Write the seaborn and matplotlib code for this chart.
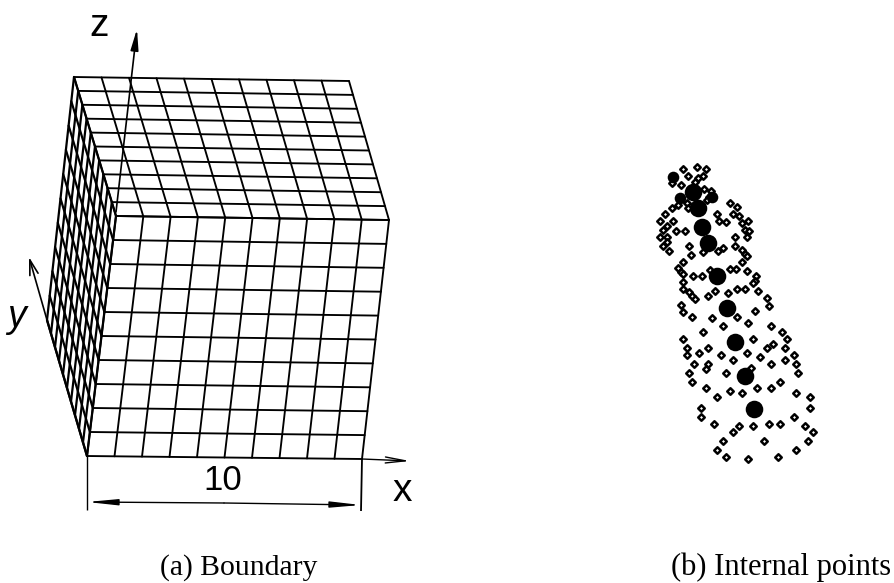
import numpy as np
import pandas as pd
import matplotlib
matplotlib.use("Agg")
import matplotlib.pyplot as plt
import seaborn as sns

# cube corners (image coordinates)
top_back_left = (74, 77)
top_back_right = (349, 81)
top_front_right = (389, 220)
top_front_left = (116, 216)
bottom_front_left = (87, 456)
bottom_front_right = (362, 459)
bottom_back_left = (47, 320)
divisions = 10

# internal points, upper part (crop coordinates: origin 640,155, 3x)
upper_x = [130,170,198,143,188,175,165,95,122,192,212,208,200,140,145,115,95,270,292,232,278,298,237,258,305,325,315,328,320,285,
           75,60,100,80,70,108,135,60,82,80,68,88,148,285,250,235,190,305,315,320,305,152,128,115,122,130,160,185,210,270,288,
           320,348,345,338,128,130,148,155,165,203,224,265,292,315,355,380,388,122,128,345]
upper_y = [42,35,42,62,62,70,80,85,90,102,108,125,135,145,158,150,158,145,157,178,178,183,197,200,205,198,225,228,245,245,
           178,198,198,212,225,227,227,245,245,260,272,288,272,272,278,288,290,285,298,302,320,300,320,340,350,358,362,362,345,342,342,
           348,362,378,385,380,402,412,422,432,422,408,415,402,402,408,430,452,450,470,468]
# internal points, lower part (crop coordinates: origin 660,305, 3x)
lower_x = [95,157,232,190,265,333,130,367,382,68,280,82,143,320,340,375,117,82,183,260,300,402,218,375,103,143,137,333,408,272,
           88,197,415,95,360,137,210,245,292,333,408,170,450,122,450,122,402,163,237,280,327,360,436,218,458,190,313,443,170,408,197,265,353]
lower_y = [35,40,35,62,55,62,82,82,102,102,102,130,130,130,117,130,143,150,150,143,157,150,165,165,178,178,192,178,178,190,
           205,205,205,232,232,250,257,264,250,250,264,277,277,308,308,336,336,356,363,363,356,356,363,382,382,408,408,408,436,436,457,463,457]
# source nodes (image coordinates)
large_x = [693, 698, 702, 708, 717, 727, 735, 745, 754]
large_y = [192, 208, 227, 243, 276, 308, 342, 376, 409]
medium_x = [673, 680, 712]
medium_y = [177, 198, 197]


def face_lines(a, b, c, d, n, start):
    """Mesh of the quadrilateral a-b-c-d as one long table of polylines."""
    a, b, c, d = map(np.asarray, (a, b, c, d))
    rows = []
    uid = start
    for t in np.linspace(0, 1, n + 1):
        for p, q in ((a + (b - a) * t, d + (c - d) * t), (a + (d - a) * t, b + (c - b) * t)):
            rows.append((uid, 0, *p))
            rows.append((uid, 1, *q))
            uid += 1
    return rows, uid


rows = []
uid = 0
for face in ((top_back_left, top_back_right, top_front_right, top_front_left),
             (top_front_left, top_front_right, bottom_front_right, bottom_front_left)):
    r, uid = face_lines(*face, divisions, uid)
    rows += r
mesh = pd.DataFrame(rows, columns=["line", "order", "x", "y"])
r, _ = face_lines(top_back_left, top_front_left, bottom_front_left, bottom_back_left, divisions, 0)
side = pd.DataFrame(r, columns=["line", "order", "x", "y"])

points = pd.DataFrame({
    "x": np.r_[640 + np.array(upper_x) / 3, 660 + np.array(lower_x) / 3],
    "y": np.r_[155 + np.array(upper_y) / 3, 305 + np.array(lower_y) / 3],
})
large = pd.DataFrame({"x": large_x, "y": large_y})
medium = pd.DataFrame({"x": medium_x, "y": medium_y})

sns.set_theme(style="white")
fig = plt.figure(figsize=(8.95, 5.83), dpi=100)
ax = fig.add_axes([0, 0, 1, 1])
ax.set_xlim(0, 895)
ax.set_ylim(583, 0)
ax.axis("off")

sns.lineplot(data=mesh, x="x", y="y", units="line", estimator=None, sort=False,
             color="black", lw=1.35, ax=ax, legend=False)
sns.lineplot(data=side, x="x", y="y", units="line", estimator=None, sort=False,
             color="black", lw=1.6, ax=ax, legend=False)

sns.scatterplot(data=points, x="x", y="y", marker="D", s=11, facecolor="white",
                edgecolor="black", linewidth=1.8, ax=ax, legend=False, zorder=3)
sns.scatterplot(data=medium, x="x", y="y", marker="o", s=70, color="black",
                linewidth=0, ax=ax, legend=False, zorder=4)
sns.scatterplot(data=large, x="x", y="y", marker="o", s=160, color="black",
                linewidth=0, ax=ax, legend=False, zorder=4)


def arrow(start, end, head="-|>,head_width=0.13,head_length=0.7", lw=1.2, ms=18):
    ax.annotate("", xy=end, xytext=start, xycoords="data", textcoords="data",
                arrowprops=dict(arrowstyle=head, color="black", lw=lw, mutation_scale=ms,
                                shrinkA=0, shrinkB=0))


def plain(xs, ys, lw=1.2):
    ax.plot(xs, ys, color="black", lw=lw, solid_capstyle="butt")


# coordinate axes
arrow((116, 212), (137, 29))
arrow(bottom_back_left, (29, 257), head="->,head_width=0.17,head_length=0.6")
plain([bottom_back_left[0], bottom_front_left[0]], [bottom_back_left[1], bottom_front_left[1]], lw=1.6)
arrow(bottom_front_right, (410, 461), head="->,head_width=0.12,head_length=0.8", lw=1.0)

# dimension line
plain([87, 87], [456, 510], lw=1.0)
plain([362, 361], [459, 511], lw=1.3)
arrow((224, 503), (87, 502), head="-|>,head_width=0.1,head_length=1.0", lw=1.0)
arrow((224, 503), (361, 505), head="-|>,head_width=0.1,head_length=1.0", lw=1.0)

sans = ["Liberation Sans", "DejaVu Sans"]
ax.text(223, 481, "10", family=sans, fontsize=25, ha="center", va="center", color="black")
ax.text(99, 26, "z", family=sans, fontsize=28, ha="center", va="center", color="black")
ax.text(17, 317, "y", family=sans, fontsize=27, ha="center", va="center", style="italic", color="black")
ax.text(402, 491, "x", family=sans, fontsize=28, ha="center", va="center", color="black")

serif = ["Liberation Serif", "DejaVu Serif"]
ax.text(238.5, 575, "(a) Boundary", family=serif, fontsize=21.3, ha="center", va="baseline", color="black")
ax.text(781, 575, "(b) Internal points", family=serif, fontsize=22, ha="center", va="baseline", color="black")

fig.savefig("out.png", dpi=100)
